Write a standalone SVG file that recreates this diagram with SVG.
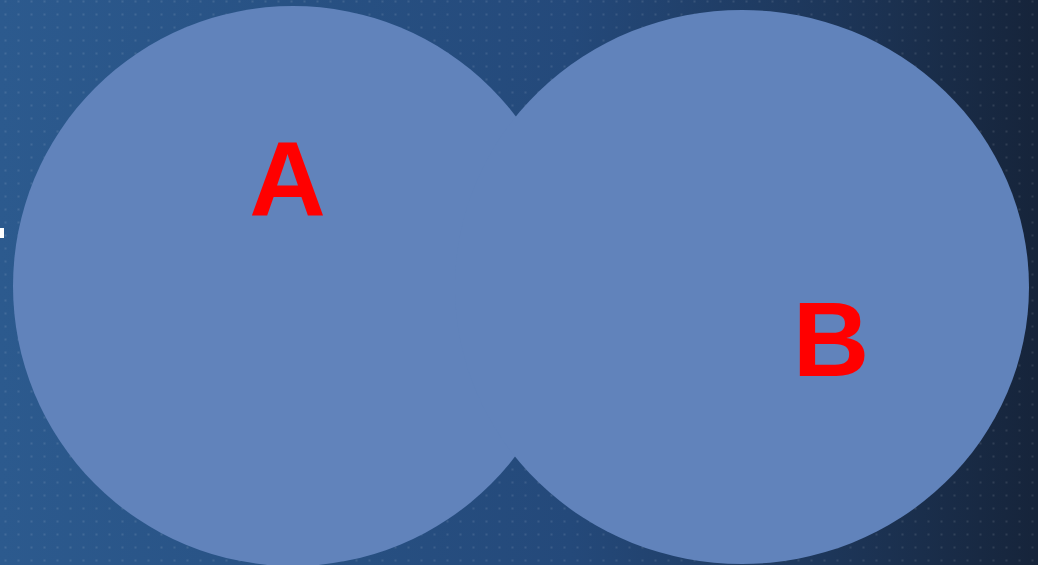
<svg xmlns="http://www.w3.org/2000/svg" width="1038" height="565" viewBox="0 0 1038 565">
  <defs>
    <linearGradient id="bg" x1="0" y1="0" x2="1" y2="0">
      <stop offset="0" stop-color="#2c5a8e"/>
      <stop offset="0.55" stop-color="#24497a"/>
      <stop offset="0.8" stop-color="#1d3659"/>
      <stop offset="1" stop-color="#16243a"/>
    </linearGradient>
    <pattern id="dots" x="0" y="0" width="13" height="13" patternUnits="userSpaceOnUse">
      <rect x="4.5" y="0.5" width="2" height="2" fill="#ffffff" fill-opacity="0.1"/>
    </pattern>
    <style>
      .circ { fill: #6183bb; }
      .lbl { font-family: "Liberation Sans", Arial, sans-serif; font-weight: bold; font-size: 106px; fill: #ff0000; text-anchor: middle; }
    </style>
  </defs>
  <rect x="0" y="0" width="1038" height="565" fill="url(#bg)"/>
  <rect x="0" y="0" width="1038" height="565" fill="url(#dots)"/>
  <rect x="0" y="228" width="4" height="10" fill="#ffffff"/>
  <g id="circle-a">
    <circle class="circ" cx="293" cy="286" r="280"/>
  </g>
  <g id="circle-b">
    <ellipse class="circ" cx="742" cy="287" rx="287" ry="277"/>
  </g>
  <g id="connectors"></g>
  <g id="label-a">
    <text class="lbl" x="287.5" y="216">A</text>
  </g>
  <g id="label-b">
    <text class="lbl" x="831" y="376">B</text>
  </g>
</svg>
